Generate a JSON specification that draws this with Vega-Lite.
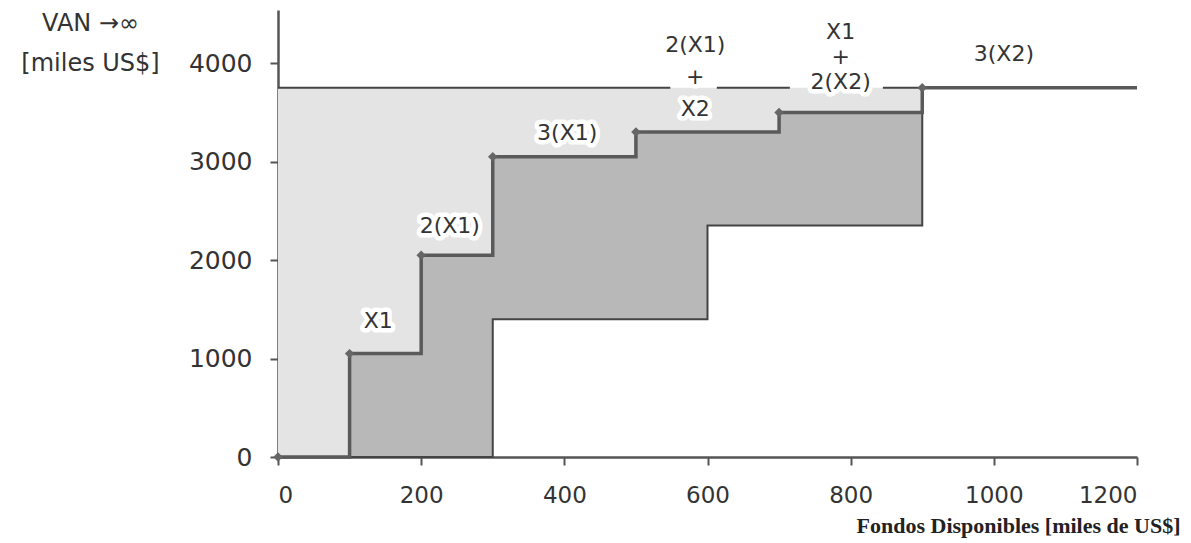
{
  "$schema": "https://vega.github.io/schema/vega-lite/v6.json",
  "width": 859,
  "height": 447,
  "autosize": {"type": "none"},
  "padding": {"left": 278, "top": 10, "right": 54, "bottom": 86},
  "background": "white",
  "config": {"view": {"stroke": null}, "axis": {"grid": false}},
  "datasets": {
    "steps": [
      {"x": 0, "van": 0},
      {"x": 100, "van": 1050},
      {"x": 200, "van": 2050},
      {"x": 300, "van": 3050},
      {"x": 500, "van": 3300},
      {"x": 700, "van": 3500},
      {"x": 900, "van": 3750},
      {"x": 1200, "van": 3750}
    ],
    "hatch": [
      {"x": 100, "top": 1050, "bottom": 0},
      {"x": 200, "top": 2050, "bottom": 0},
      {"x": 300, "top": 3050, "bottom": 1400},
      {"x": 500, "top": 3300, "bottom": 1400},
      {"x": 600, "top": 3300, "bottom": 2350},
      {"x": 700, "top": 3500, "bottom": 2350},
      {"x": 900, "top": 3500, "bottom": 2350}
    ],
    "topline": [
      {"x": 0, "x2": 548},
      {"x": 613, "x2": 715},
      {"x": 845, "x2": 900}
    ],
    "labels": [
      {"x": 140, "y": 1380, "text": "X1"},
      {"x": 240, "y": 2345, "text": "2(X1)"},
      {"x": 404, "y": 3290, "text": "3(X1)"},
      {"x": 583, "y": 4183, "text": "2(X1)\n+\nX2", "lh": 32},
      {"x": 786, "y": 4315, "text": "X1\n+\n2(X2)", "lh": 25},
      {"x": 1014, "y": 4090, "text": "3(X2)"}
    ]
  },
  "layer": [
    {
      "data": {"name": "steps"},
      "transform": [{"filter": "datum.x <= 900"}],
      "mark": {"type": "area", "interpolate": "step-after", "color": "#e4e4e4"},
      "encoding": {
        "x": {
          "field": "x", "type": "quantitative",
          "scale": {"domain": [0, 1200], "nice": false},
          "axis": {
            "values": [0, 200, 400, 600, 800, 1000, 1200], "format": "d",
            "labelFont": "DejaVu Sans", "labelFontSize": 23, "labelColor": "#333",
            "labelPadding": 19, "tickSize": 8, "tickWidth": 2, "tickColor": "#555",
            "domainColor": "#555", "domainWidth": 2.5,
            "title": "Fondos Disponibles [miles de US$]",
            "titleFont": "Liberation Serif", "titleFontWeight": "bold", "titleFontSize": 22,
            "titleColor": "#222", "titleAnchor": null, "titleAlign": "right",
            "titleBaseline": "alphabetic", "titleX": 902, "titleY": 75
          }
        },
        "y": {
          "field": "van", "type": "quantitative",
          "scale": {"domain": [0, 4540], "nice": false},
          "axis": {
            "values": [0, 1000, 2000, 3000, 4000], "format": "d",
            "labelFont": "DejaVu Sans", "labelFontSize": 25, "labelColor": "#333",
            "labelPadding": 18, "tickSize": 8, "tickWidth": 2, "tickColor": "#555",
            "domainColor": "#555", "domainWidth": 2.5,
            "title": ["VAN \u2192\u221e", "[miles US$]"],
            "titleFont": "DejaVu Sans", "titleFontWeight": "normal", "titleFontSize": 24,
            "titleColor": "#333", "titleAngle": 0, "titleAlign": "center",
            "titleBaseline": "alphabetic", "titleX": -188, "titleY": 20, "titleLineHeight": 40
          }
        },
        "y2": {"datum": 3750}
      }
    },
    {
      "data": {"name": "hatch"},
      "mark": {"type": "area", "interpolate": "step-after", "fill": "#b8b8b8", "stroke": "#444", "strokeWidth": 2},
      "encoding": {
        "x": {"field": "x", "type": "quantitative"},
        "y": {"field": "top", "type": "quantitative"},
        "y2": {"field": "bottom"}
      }
    },
    {
      "data": {"name": "topline"},
      "mark": {"type": "rule", "color": "#444", "strokeWidth": 2},
      "encoding": {
        "x": {"field": "x", "type": "quantitative"},
        "x2": {"field": "x2"},
        "y": {"datum": 3750}
      }
    },
    {
      "data": {"name": "steps"},
      "mark": {"type": "line", "interpolate": "step-after", "color": "#5a5a5a", "strokeWidth": 3.5},
      "encoding": {
        "x": {"field": "x", "type": "quantitative"},
        "y": {"field": "van", "type": "quantitative"}
      }
    },
    {
      "data": {"name": "steps"},
      "transform": [{"filter": "datum.x <= 900"}],
      "mark": {"type": "point", "shape": "diamond", "filled": true, "size": 90, "color": "#666", "opacity": 1},
      "encoding": {
        "x": {"field": "x", "type": "quantitative"},
        "y": {"field": "van", "type": "quantitative"}
      }
    },
    {
      "data": {"name": "labels"},
      "transform": [{"filter": "datum.lh == 32"}],
      "mark": {"type": "text", "font": "DejaVu Sans", "fontSize": 22, "stroke": "white", "strokeWidth": 9, "strokeJoin": "round", "color": "white", "align": "center", "baseline": "middle", "lineBreak": "\n", "lineHeight": 32},
      "encoding": {
        "x": {"field": "x", "type": "quantitative"},
        "y": {"field": "y", "type": "quantitative"},
        "text": {"field": "text"}
      }
    },
    {
      "data": {"name": "labels"},
      "transform": [{"filter": "datum.lh != 32"}],
      "mark": {"type": "text", "font": "DejaVu Sans", "fontSize": 22, "stroke": "white", "strokeWidth": 9, "strokeJoin": "round", "color": "white", "align": "center", "baseline": "middle", "lineBreak": "\n", "lineHeight": 25},
      "encoding": {
        "x": {"field": "x", "type": "quantitative"},
        "y": {"field": "y", "type": "quantitative"},
        "text": {"field": "text"}
      }
    },
    {
      "data": {"name": "labels"},
      "transform": [{"filter": "datum.lh == 32"}],
      "mark": {"type": "text", "font": "DejaVu Sans", "fontSize": 22, "color": "#333", "align": "center", "baseline": "middle", "lineBreak": "\n", "lineHeight": 32},
      "encoding": {
        "x": {"field": "x", "type": "quantitative"},
        "y": {"field": "y", "type": "quantitative"},
        "text": {"field": "text"}
      }
    },
    {
      "data": {"name": "labels"},
      "transform": [{"filter": "datum.lh != 32"}],
      "mark": {"type": "text", "font": "DejaVu Sans", "fontSize": 22, "color": "#333", "align": "center", "baseline": "middle", "lineBreak": "\n", "lineHeight": 25},
      "encoding": {
        "x": {"field": "x", "type": "quantitative"},
        "y": {"field": "y", "type": "quantitative"},
        "text": {"field": "text"}
      }
    }
  ]
}
